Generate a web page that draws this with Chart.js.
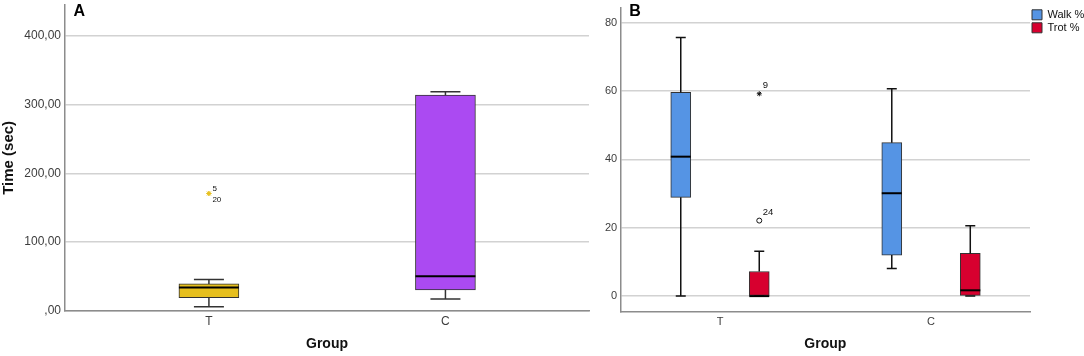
<!DOCTYPE html>
<html>
<head>
<meta charset="utf-8">
<script src="https://cdn.jsdelivr.net/npm/chart.js@4/dist/chart.umd.min.js"></script>
<style>
  html, body { margin: 0; padding: 0; background: #fff; }
  #wrap { position: relative; width: 1084px; height: 356px; }
  #wrapA { position: absolute; left: 0; top: 0; width: 594px; height: 356px; }
  #wrapB { position: absolute; left: 594px; top: 0; width: 490px; height: 356px; }
</style>
</head>
<body>
<div id="wrap">
  <div id="wrapA"><canvas id="chartA"></canvas></div>
  <div id="wrapB"><canvas id="chartB"></canvas></div>
</div>
<script>
const groups = ['T', 'C'];

// panel A - time (sec)
const timeTicks = [0, 100, 200, 300, 400];
const timeMin = [5.8, 16.9];
const timeQ1 = [18.8, 30.4];
const timeMedian = [33.8, 50.2];
const timeQ3 = [39.0, 313.7];
const timeMax = [45.4, 318.6];
const timeOutlierGroup = ['T', 'T'];
const timeOutlierValue = [170.6, 170.6];
const timeOutlierCase = ['5', '20'];

// panel B - gait percentages
const pctTicks = [0, 20, 40, 60, 80];
const walkMin = [0, 8.1];
const walkQ1 = [28.9, 12.0];
const walkMedian = [40.8, 30.1];
const walkQ3 = [59.6, 44.9];
const walkMax = [75.7, 60.7];
const trotMin = [0, 0];
const trotQ1 = [0, 0];
const trotMedian = [0, 1.7];
const trotQ3 = [7.2, 12.5];
const trotMax = [13.1, 20.6];
const trotOutlierGroup = ['T', 'T'];
const trotOutlierValue = [59.2, 22.1];
const trotOutlierCase = ['9', '24'];
const trotOutlierKind = ['star', 'circle'];

const FONT = '"Liberation Sans", Arial, sans-serif';
const AXIS = '#8c8c8c';
const GRID = '#d2d2d2';
const TICK = '#3d3d3d';
const groupShift = 0.186;

// whiskers, caps and median lines on top of the floating bars
const boxWhiskers = {
  id: 'boxWhiskers',
  afterDatasetsDraw(chart) {
    const ctx = chart.ctx;
    const y = chart.scales.y;
    chart.data.datasets.forEach((ds, i) => {
      if (!ds.stats) return;
      chart.getDatasetMeta(i).data.forEach((bar, j) => {
        const x = bar.x, half = bar.width / 2, cap = bar.width / 4;
        const [q1, q3] = ds.data[j].y;
        const lo = y.getPixelForValue(ds.stats.min[j]);
        const hi = y.getPixelForValue(ds.stats.max[j]);
        const med = y.getPixelForValue(ds.stats.median[j]);
        ctx.save();
        ctx.strokeStyle = ds.whiskerColor;
        ctx.lineWidth = 1.5;
        ctx.beginPath();
        ctx.moveTo(x, y.getPixelForValue(q3)); ctx.lineTo(x, hi);
        ctx.moveTo(x - cap, hi); ctx.lineTo(x + cap, hi);
        ctx.moveTo(x, y.getPixelForValue(q1)); ctx.lineTo(x, lo);
        ctx.moveTo(x - cap, lo); ctx.lineTo(x + cap, lo);
        ctx.stroke();
        ctx.strokeStyle = '#000';
        ctx.lineWidth = 2;
        ctx.beginPath();
        ctx.moveTo(x - half, med); ctx.lineTo(x + half, med);
        ctx.stroke();
        ctx.restore();
      });
    });
  }
};

// case numbers next to outliers
const caseLabels = {
  id: 'caseLabels',
  afterDatasetsDraw(chart) {
    const ctx = chart.ctx;
    chart.data.datasets.forEach((ds, i) => {
      if (!ds.cases) return;
      ctx.save();
      ctx.font = ds.caseFont;
      ctx.fillStyle = '#111';
      ctx.textBaseline = 'middle';
      chart.getDatasetMeta(i).data.forEach((pt, j) => {
        const d = ds.data[j];
        const same = ds.data.slice(0, j).filter(o => o.x === d.x && o.y === d.y).length;
        ctx.fillText(ds.cases[j], pt.x + 3.5, pt.y + ds.caseDy + same * 11);
      });
      ctx.restore();
    });
  }
};

const panelLetter = {
  id: 'panelLetter',
  afterDraw(chart, args, opts) {
    const ctx = chart.ctx;
    ctx.save();
    ctx.font = 'bold 16px ' + FONT;
    ctx.fillStyle = '#000';
    ctx.textBaseline = 'alphabetic';
    ctx.fillText(opts.text, chart.chartArea.left + 8.5, 15.5);
    ctx.restore();
  }
};

function noPad(s) {
  s.paddingTop = 0; s.paddingBottom = 0; s.paddingLeft = 0; s.paddingRight = 0;
}

function boxSet(label, color, q1, q3, min, median, max, shift, thickness, whisker) {
  return {
    type: 'bar',
    label,
    data: groups.map((g, i) => ({ x: i + 1 + shift, y: [q1[i], q3[i]] })),
    stats: { min, median, max },
    backgroundColor: color,
    borderColor: '#333',
    borderWidth: 1,
    borderSkipped: false,
    barThickness: thickness,
    grouped: false,
    whiskerColor: whisker
  };
}

function xScale(min, max, fontSize, pad, height) {
  return {
    type: 'linear',
    min, max,
    offset: false,
    afterBuildTicks: s => { s.ticks = groups.map((g, i) => ({ value: i + 1 })); },
    afterFit: s => { s.height = height; noPad(s); },
    grid: { display: false, drawTicks: false },
    border: { display: true, color: AXIS, width: 1.5 },
    ticks: { callback: v => groups[v - 1], color: TICK, padding: pad, font: { size: fontSize, family: FONT } },
    title: { display: true, text: 'Group', color: '#111', padding: { top: 0, bottom: 3.5 }, font: { size: 14, weight: 'bold', family: FONT } }
  };
}

new Chart(document.getElementById('chartA'), {
  type: 'bar',
  data: {
    datasets: [
      boxSet('Time', ['#e6bf1e', '#ab4af2'], timeQ1, timeQ3, timeMin, timeMedian, timeMax, 0, 60, '#333'),
      {
        type: 'scatter',
        label: 'Outliers',
        data: timeOutlierValue.map((v, i) => ({ x: groups.indexOf(timeOutlierGroup[i]) + 1, y: v })),
        pointStyle: 'star',
        radius: 2.5,
        borderColor: '#e6bf1e',
        borderWidth: 1,
        cases: timeOutlierCase,
        caseDy: -4.7,
        caseFont: '8px ' + FONT
      }
    ]
  },
  options: {
    responsive: true,
    maintainAspectRatio: false,
    animation: false,
    events: [],
    layout: { padding: { top: 3.3, right: -3, left: 0, bottom: 0 } },
    scales: {
      x: xScale(0.3915, 2.607, 12, 4, 45.3),
      y: {
        min: 0, max: 445,
        afterBuildTicks: s => { s.ticks = timeTicks.map(v => ({ value: v })); },
        afterFit: s => { s.width = 65; noPad(s); },
        grid: { color: GRID, lineWidth: 1.5, drawTicks: false },
        border: { display: true, color: AXIS, width: 1.5 },
        ticks: { callback: v => (v === 0 ? '' : v) + ',00', color: TICK, padding: 4, font: { size: 12, family: FONT } },
        title: { display: true, text: 'Time (sec)', color: '#111', padding: { top: 0, bottom: 0 }, font: { size: 15, weight: 'bold', family: FONT } }
      }
    },
    plugins: {
      legend: { display: false },
      tooltip: { enabled: false },
      panelLetter: { text: 'A' }
    }
  },
  plugins: [boxWhiskers, caseLabels, panelLetter]
});

new Chart(document.getElementById('chartB'), {
  type: 'bar',
  data: {
    datasets: [
      boxSet('Walk %', '#5594e4', walkQ1, walkQ3, walkMin, walkMedian, walkMax, -groupShift, 20, '#111'),
      boxSet('Trot %', '#d7002f', trotQ1, trotQ3, trotMin, trotMedian, trotMax, groupShift, 20, '#111'),
      {
        type: 'scatter',
        label: 'Outliers',
        data: trotOutlierValue.map((v, i) => ({ x: groups.indexOf(trotOutlierGroup[i]) + 1 + groupShift, y: v })),
        pointStyle: trotOutlierKind,
        radius: 2.5,
        borderColor: '#111',
        backgroundColor: 'rgba(0,0,0,0)',
        borderWidth: 1,
        cases: trotOutlierCase,
        caseDy: -8,
        caseFont: '9.5px ' + FONT
      }
    ]
  },
  options: {
    responsive: true,
    maintainAspectRatio: false,
    animation: false,
    events: [],
    layout: { padding: { top: 7.3, right: 0, left: 0, bottom: 0 } },
    scales: {
      x: xScale(0.5294, 2.469, 11, 4, 44.5),
      y: {
        min: -4.5, max: 84.5,
        afterBuildTicks: s => { s.ticks = pctTicks.map(v => ({ value: v })); },
        afterFit: s => { s.width = 26.7; noPad(s); },
        grid: { color: GRID, lineWidth: 1.5, drawTicks: false },
        border: { display: true, color: AXIS, width: 1.5 },
        ticks: { color: TICK, padding: 3.5, font: { size: 11, family: FONT } }
      }
    },
    plugins: {
      legend: {
        display: true,
        position: 'right',
        align: 'start',
        maxWidth: 54,
        labels: {
          boxWidth: 10,
          boxHeight: 10,
          padding: 2,
          color: '#111',
          font: { size: 11, family: FONT },
          filter: (item, data) => !data.datasets[item.datasetIndex].cases
        }
      },
      tooltip: { enabled: false },
      panelLetter: { text: 'B' }
    }
  },
  plugins: [boxWhiskers, caseLabels, panelLetter]
});
</script>
</body>
</html>
